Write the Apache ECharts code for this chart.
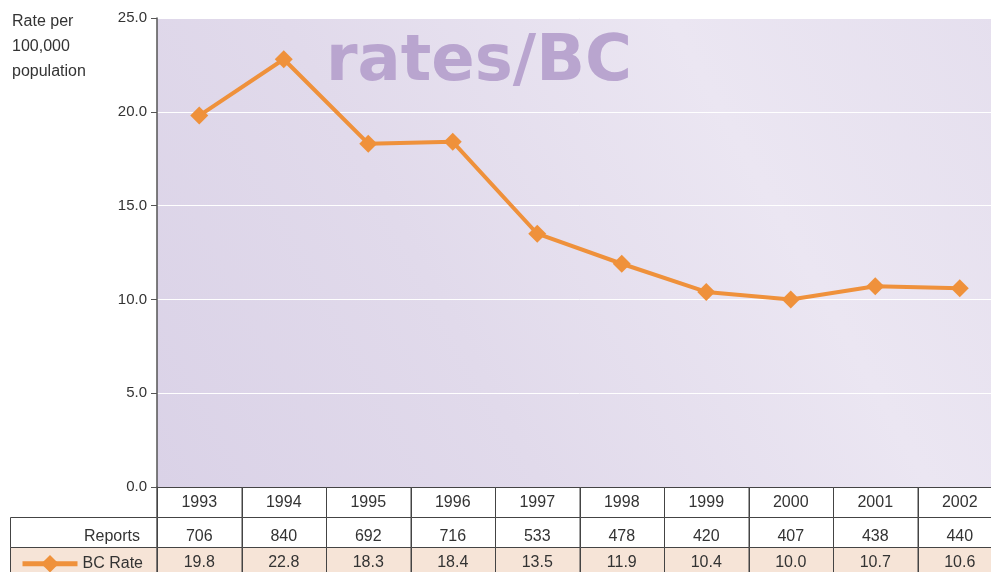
<!DOCTYPE html>
<html>
<head>
<meta charset="utf-8">
<script src="https://cdn.jsdelivr.net/npm/echarts@6/dist/echarts.min.js"></script>
<style>
  html, body { margin: 0; padding: 0; overflow: hidden; background: #fff; }
  #chart { width: 1002px; height: 578px; }
</style>
</head>
<body>
<div id="chart"></div>
<script>
// chart data
var years = ['1993', '1994', '1995', '1996', '1997', '1998', '1999', '2000', '2001', '2002']
var reports = [706, 840, 692, 716, 533, 478, 420, 407, 438, 440]
var bcRate = [19.8, 22.8, 18.3, 18.4, 13.5, 11.9, 10.4, 10.0, 10.7, 10.6]
var tableRows = ['years', 'Reports', 'BC Rate']

var orange = '#ef913b'
var peach = '#f6e4d7'
var textColor = '#333'
var fontFamily = '"Liberation Sans", Arial, sans-serif'

// cells for the data table under the chart: [column, row, text]
var cells = []
for (let i = 0; i < years.length; i++) {
  cells.push([i, 0, years[i]])
  cells.push([i, 1, String(reports[i])])
  cells.push([i, 2, bcRate[i].toFixed(1)])
}
var rowTextShift = [1, 5, 1]

var chart = echarts.init(document.getElementById('chart'))
chart.setOption({
  animation: false,
  textStyle: { fontFamily: fontFamily },
  legend: {
    data: ['BC Rate'],
    left: 15,
    top: 550,
    itemWidth: 55,
    itemHeight: 22,
    lineStyle: { width: 5 },
    textStyle: { fontSize: 16, color: textColor, fontFamily: fontFamily }
  },
  grid: [
    {
      left: 157, right: 0, top: 18, bottom: 91,
      show: true,
      borderWidth: 0,
      backgroundColor: {
        type: 'linear', x: 0, y: 1, x2: 1, y2: 0,
        colorStops: [
          { offset: 0, color: '#dad2e7' },
          { offset: 0.35, color: '#e1daeb' },
          { offset: 0.7, color: '#ebe6f2' },
          { offset: 1, color: '#e5dfee' }
        ]
      }
    },
    { left: 157, right: 0, top: 487, height: 90 }
  ],
  xAxis: [
    {
      gridIndex: 0,
      type: 'category',
      data: years,
      boundaryGap: true,
      axisLine: { show: true, lineStyle: { color: '#333', width: 1 } },
      axisTick: { show: false },
      axisLabel: { show: false }
    },
    {
      gridIndex: 1,
      type: 'category',
      data: years,
      boundaryGap: true,
      axisLine: { show: false },
      axisTick: { show: false },
      axisLabel: { show: false }
    }
  ],
  yAxis: [
    {
      gridIndex: 0,
      type: 'value',
      min: 0,
      max: 25,
      interval: 5,
      axisLine: { show: true, lineStyle: { color: '#555', width: 1.5 } },
      axisTick: { show: true, inside: false, length: 6, lineStyle: { color: '#555' } },
      axisLabel: {
        margin: 10,
        fontSize: 15,
        color: textColor,
        formatter: function (v) { return v.toFixed(1) }
      },
      splitLine: { show: true, lineStyle: { color: '#ffffff', width: 1 } }
    },
    {
      gridIndex: 1,
      type: 'category',
      data: tableRows,
      inverse: true,
      axisLine: { show: true, lineStyle: { color: '#555', width: 1.5 } },
      axisTick: { show: false },
      axisLabel: {
        margin: 17,
        color: textColor,
        formatter: function (v) { return v === 'Reports' ? '{r|' + v + '}' : '' },
        rich: {
          r: { fontSize: 16, fontFamily: fontFamily, color: textColor, padding: [10, 0, 0, 0] }
        }
      }
    }
  ],
  graphic: [
    {
      type: 'text',
      left: 12,
      top: 9,
      style: {
        text: 'Rate per\n100,000\npopulation',
        fontSize: 16,
        fontFamily: fontFamily,
        lineHeight: 25,
        fill: textColor
      }
    },
    {
      type: 'text',
      left: 326,
      top: 31,
      z: 1,
      style: {
        text: 'rates/BC',
        fontSize: 64,
        fontWeight: 'bold',
        fontFamily: '"DejaVu Sans"',
        fill: '#b9a5cf'
      }
    },
    {
      type: 'rect',
      shape: { x: 10.5, y: 517.5, width: 147, height: 30 },
      style: { fill: '#fff', stroke: '#444', lineWidth: 1 }
    },
    {
      type: 'rect',
      shape: { x: 10.5, y: 547.5, width: 147, height: 30 },
      style: { fill: peach, stroke: '#444', lineWidth: 1 }
    }
  ],
  series: [
    {
      name: 'BC Rate',
      type: 'line',
      xAxisIndex: 0,
      yAxisIndex: 0,
      data: bcRate,
      symbol: 'diamond',
      symbolSize: 18,
      z: 5,
      lineStyle: { color: orange, width: 4 },
      itemStyle: { color: orange }
    },
    {
      name: 'table',
      type: 'custom',
      xAxisIndex: 1,
      yAxisIndex: 1,
      data: cells,
      z: 3,
      renderItem: function (params, api) {
        const p = api.coord([api.value(0), api.value(1)])
        const size = api.size([1, 1])
        const row = api.value(1)
        return {
          type: 'group',
          children: [
            {
              type: 'rect',
              shape: {
                x: Math.round(p[0] - size[0] / 2) + 0.5,
                y: Math.round(p[1] - size[1] / 2) + 0.5,
                width: size[0],
                height: size[1]
              },
              style: { fill: row === 2 ? peach : '#fff', stroke: '#444', lineWidth: 1 }
            },
            {
              type: 'text',
              x: p[0],
              y: p[1] + rowTextShift[row],
              style: {
                text: cells[params.dataIndex][2],
                font: '16px ' + fontFamily,
                fill: textColor,
                align: 'center',
                verticalAlign: 'middle'
              }
            }
          ]
        }
      }
    }
  ]
})
</script>
</body>
</html>
